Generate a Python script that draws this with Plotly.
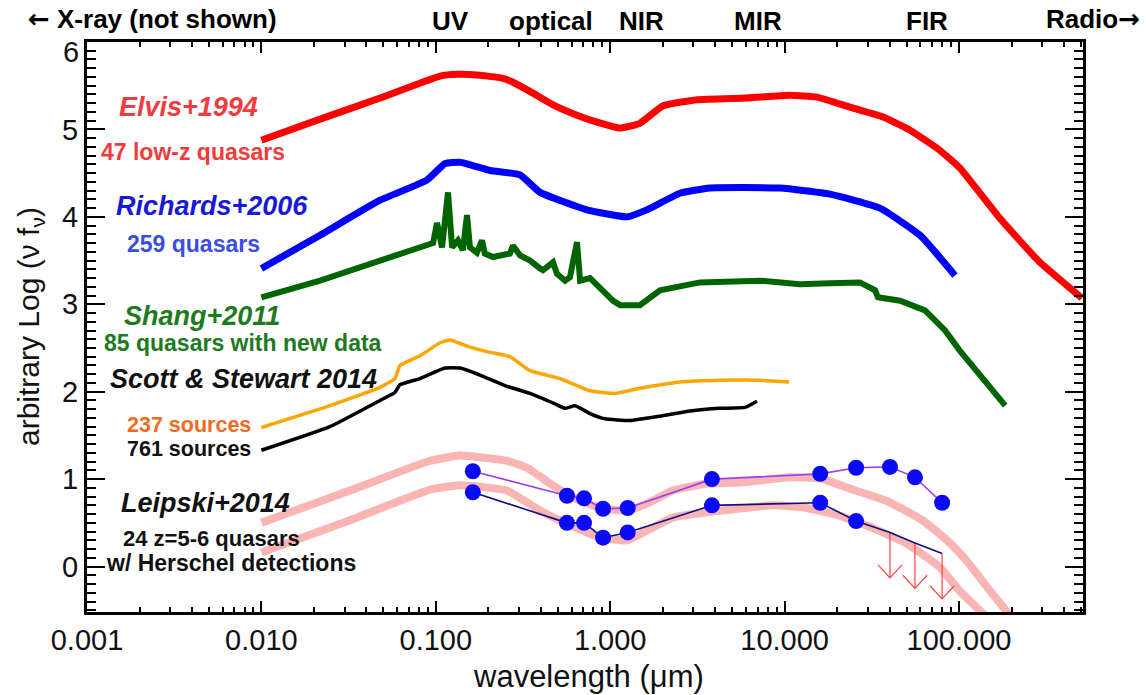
import numpy as np
import plotly.graph_objects as go

# ---------------- data (wavelength in micron, arbitrary log nu f_nu) ----------------
elvis_x = [0.01, 0.0217, 0.0479, 0.1057, 0.1324, 0.179, 0.2428, 0.277, 0.35, 0.47, 0.65, 0.85,
           1.14, 1.48, 2.01, 3.15, 6.09, 10.7, 15.3, 23.7, 36.7, 52.4, 77.8, 101, 172, 291, 507]
elvis_y = [4.877, 5.118, 5.359, 5.61, 5.63, 5.62, 5.585, 5.54, 5.43, 5.28, 5.16, 5.08,
           5.015, 5.07, 5.27, 5.34, 5.36, 5.39, 5.37, 5.255, 5.141, 4.99, 4.76, 4.56, 3.98, 3.48, 3.07]

richards_x = [0.01, 0.0217, 0.0479, 0.089, 0.113, 0.138, 0.205, 0.304, 0.396, 0.736, 1.25, 1.62,
              2.51, 3.73, 9.41, 18.2, 35.2, 59.7, 94.8]
richards_y = [3.41, 3.79, 4.19, 4.42, 4.61, 4.625, 4.53, 4.48, 4.28, 4.08, 4.0, 4.08,
              4.27, 4.33, 4.33, 4.26, 4.10, 3.79, 3.33]

shang_x = [0.01, 0.0217, 0.0479, 0.0845, 0.0965, 0.1016, 0.1086, 0.1175, 0.124, 0.134, 0.143,
           0.151, 0.157, 0.172, 0.184, 0.191, 0.213, 0.266, 0.277, 0.304, 0.347, 0.396, 0.412,
           0.470, 0.495, 0.551, 0.588, 0.645, 0.672, 0.766, 0.874, 1.04, 1.14, 1.48, 1.93, 3.27,
           7.23, 12.2, 18.2, 27.0, 33.0, 34.3, 45.9, 63.8, 83.2, 101, 132, 184]
shang_y = [3.08, 3.27, 3.50, 3.65, 3.70, 3.93, 3.65, 4.28, 3.65, 3.73, 3.62,
           4.02, 3.65, 3.59, 3.73, 3.58, 3.54, 3.58, 3.67, 3.56, 3.50, 3.41, 3.39,
           3.48, 3.35, 3.27, 3.31, 3.71, 3.27, 3.30, 3.19, 3.04, 2.99, 2.99, 3.16, 3.25,
           3.27, 3.23, 3.24, 3.25, 3.16, 3.08, 3.04, 2.93, 2.70, 2.47, 2.19, 1.84]

scott237_x = [0.01, 0.0247, 0.0479, 0.0583, 0.0623, 0.0811, 0.1057, 0.1205, 0.157, 0.205, 0.266,
              0.347, 0.515, 0.766, 1.07, 1.48, 2.51, 4.26, 7.23, 10.6]
scott237_y = [1.59, 1.84, 2.05, 2.15, 2.30, 2.41, 2.56, 2.59, 2.51, 2.45, 2.40,
              2.24, 2.15, 2.01, 1.98, 2.04, 2.11, 2.13, 2.13, 2.11]

scott761_x = [0.01, 0.0247, 0.0479, 0.0583, 0.0623, 0.0811, 0.113, 0.138, 0.179, 0.249, 0.347,
              0.483, 0.551, 0.628, 0.766, 0.933, 1.30, 1.93, 2.87, 4.26, 5.93, 6.95]
scott761_y = [1.33, 1.60, 1.90, 1.99, 2.08, 2.15, 2.27, 2.27, 2.19, 2.07, 1.98,
              1.86, 1.81, 1.84, 1.75, 1.69, 1.67, 1.72, 1.78, 1.81, 1.82, 1.89]

pink_hi_x = [0.01, 0.0322, 0.0927, 0.138, 0.256, 0.333, 0.452, 0.612, 0.874, 1.25, 1.62, 2.29,
             3.59, 5.55, 10.7, 16.0, 23.7, 38.6, 62.2, 85.3, 108, 151, 196]
pink_hi_y = [0.50, 0.87, 1.21, 1.27, 1.21, 1.13, 0.95, 0.79, 0.67, 0.64, 0.72, 0.87,
             0.95, 0.96, 1.02, 1.01, 0.89, 0.75, 0.525, 0.30, 0.09, -0.28, -0.56]
pink_lo_x = [0.01, 0.0322, 0.0927, 0.138, 0.256, 0.396, 0.565, 0.874, 1.25, 1.62, 2.29, 3.59,
             8.57, 13.4, 20.8, 32.1, 50.4, 77.8, 101, 141]
pink_lo_y = [0.16, 0.53, 0.88, 0.93, 0.87, 0.64, 0.49, 0.33, 0.30, 0.41, 0.56, 0.62,
             0.70, 0.67, 0.58, 0.44, 0.26, -0.01, -0.28, -0.56]

leip_hi_x = [0.163, 0.565, 0.708, 0.91, 1.26, 3.83, 16.0, 25.7, 40.2, 55.9, 80.0]
leip_hi_y = [1.09, 0.81, 0.78, 0.66, 0.67, 1.00, 1.06, 1.13, 1.14, 1.02, 0.73]
leip_lo_x = [0.163, 0.565, 0.708, 0.91, 1.26, 3.83, 16.0, 25.7]
leip_lo_y = [0.85, 0.50, 0.50, 0.33, 0.39, 0.70, 0.73, 0.52]
limit_x = [40.2, 55.9, 80.0]
limit_y = [0.39, 0.27, 0.15]
limit_len = 0.52

xtick_vals = [0.001, 0.01, 0.1, 1, 10, 100]
xtick_text = ["0.001", "0.010", "0.100", "1.000", "10.000", "100.000"]
ytick_vals = [0, 1, 2, 3, 4, 5]
ytick_text = ["0", "1", "2", "3", "4", "5"]
band_labels = ["UV", "optical", "NIR", "MIR", "FIR"]
band_xpix = [450, 551, 641, 758, 927]

# ---------------- figure ----------------
fig = go.Figure()

def line(x, y, color, width, opacity=1.0):
    fig.add_trace(go.Scatter(x=x, y=y, mode="lines", opacity=opacity,
                             line=dict(color=color, width=width, shape="spline", smoothing=0.4),
                             hoverinfo="skip", showlegend=False))

line(elvis_x, elvis_y, "#ff0000", 7)
line(richards_x, richards_y, "#0000ff", 7)
fig.add_trace(go.Scatter(x=shang_x, y=shang_y, mode="lines",
                         line=dict(color="#006400", width=6), showlegend=False, hoverinfo="skip"))
line(scott237_x, scott237_y, "#ffa500", 3.5)
line(scott761_x, scott761_y, "#000000", 3.5)
line(pink_hi_x, pink_hi_y, "rgba(245,125,125,0.58)", 8)
line(pink_lo_x, pink_lo_y, "rgba(245,125,125,0.58)", 8)

# upper limit arrows (lines + V heads), computed from the limit data
dxl = 0.069
dyl = 0.15
ax_, ay_ = [], []
for xv, yv in zip(limit_x, limit_y):
    tip = yv - limit_len
    ax_ += [xv, xv, None, xv * 10 ** (-dxl), xv, xv * 10 ** dxl, None]
    ay_ += [yv, tip, None, tip + dyl, tip, tip + dyl, None]
fig.add_trace(go.Scatter(x=ax_, y=ay_, mode="lines", line=dict(color="#ff4040", width=1.2),
                         showlegend=False, hoverinfo="skip"))

# Leipski lines + points
fig.add_trace(go.Scatter(x=leip_hi_x, y=leip_hi_y, mode="lines+markers",
                         line=dict(color="#9b3ff0", width=1.6),
                         marker=dict(color="#0a0af5", size=16),
                         showlegend=False, hoverinfo="skip"))
fig.add_trace(go.Scatter(x=leip_lo_x + limit_x, y=leip_lo_y + limit_y, mode="lines",
                         line=dict(color="#101080", width=1.6),
                         showlegend=False, hoverinfo="skip"))
fig.add_trace(go.Scatter(x=leip_lo_x, y=leip_lo_y, mode="markers",
                         marker=dict(color="#0a0af5", size=16),
                         showlegend=False, hoverinfo="skip"))

FONT = "Liberation Sans, Arial, sans-serif"

fig.update_layout(
    width=1146, height=695,
    margin=dict(l=87, r=63, t=42, b=83),
    paper_bgcolor="white", plot_bgcolor="white",
    font=dict(family=FONT, color="black"),
    showlegend=False,
)
fig.update_xaxes(
    type="log", range=[-3, np.log10(514)],
    tickmode="array", tickvals=xtick_vals, ticktext=xtick_text,
    ticks="inside", ticklen=11, tickwidth=2, tickcolor="black",
    minor=dict(dtick="D1", ticks="inside", ticklen=5, tickwidth=2, tickcolor="black", showgrid=False),
    showline=True, linewidth=3, linecolor="black", mirror="allticks",
    showgrid=False, zeroline=False,
    tickfont=dict(size=29, family=FONT, color="#111"),
)
fig.update_yaxes(
    range=[-0.52, 6.0], tickmode="array", tickvals=ytick_vals, ticktext=ytick_text,
    ticks="inside", ticklen=18, tickwidth=2, tickcolor="black",
    minor=dict(dtick=0.1, ticks="inside", ticklen=9, tickwidth=2, tickcolor="black", showgrid=False),
    showline=True, linewidth=3, linecolor="black", mirror="allticks",
    showgrid=False, zeroline=False,
    tickfont=dict(size=29, family=FONT, color="#111"),
)

def px2paper_x(px):
    return (px - 87) / 996.0

def py2paper_y(py):
    return (612 - py) / 570.0

ann = []
# top y label drawn just below the top edge, as in the reference
ann.append(dict(text="6", x=px2paper_x(81), y=py2paper_y(52), xref="paper", yref="paper",
                showarrow=False, xanchor="right", yanchor="middle", font=dict(size=29, color="#111")))
# axis titles
ann.append(dict(text="wavelength (μm)", x=px2paper_x(588), y=py2paper_y(676), xref="paper", yref="paper",
                showarrow=False, xanchor="center", yanchor="middle", font=dict(size=31, color="#111")))
ann.append(dict(text="arbitrary Log (ν f<sub>ν</sub>)", x=px2paper_x(30), y=py2paper_y(327), xref="paper",
                yref="paper", textangle=-90, showarrow=False, xanchor="center", yanchor="middle",
                font=dict(size=30, color="#111")))
# band labels on top
for lab, px in zip(band_labels, band_xpix):
    ann.append(dict(text="<b>%s</b>" % lab, x=px2paper_x(px), y=py2paper_y(21), xref="paper", yref="paper",
                    showarrow=False, xanchor="center", yanchor="middle", font=dict(size=26, color="black")))
ARW = "<span style=\"font-family:'DejaVu Sans'\">%s</span>"
ann.append(dict(text="<b>" + ARW % "←" + " X-ray (not shown)</b>", x=px2paper_x(26), y=py2paper_y(19),
                xref="paper", yref="paper", showarrow=False, xanchor="left", yanchor="middle",
                font=dict(size=26, color="black")))
ann.append(dict(text="<b>Radio" + ARW % "→" + "</b>", x=px2paper_x(1142), y=py2paper_y(19), xref="paper",
                yref="paper", showarrow=False, xanchor="right", yanchor="middle", font=dict(size=26, color="black")))

labels = [
    ("<b><i>Elvis+1994</i></b>", 188, 107, 27, "#f03c3c"),
    ("<b>47 low-z quasars</b>", 192.5, 152, 23, "#f03c3c"),
    ("<b><i>Richards+2006</i></b>", 212, 206, 27, "#1818d8"),
    ("<b>259 quasars</b>", 193, 244, 23, "#3a4ee6"),
    ("<b><i>Shang+2011</i></b>", 201.5, 316, 27, "#1e7a1e"),
    ("<b>85 quasars with new data</b>", 243, 343, 23, "#1e7a1e"),
    ("<b><i>Scott &amp; Stewart 2014</i></b>", 243, 379, 27, "#111111"),
    ("<b>237 sources</b>", 188.5, 425, 21.5, "#f26a1e"),
    ("<b>761 sources</b>", 188.5, 449, 21.5, "#111111"),
    ("<b><i>Leipski+2014</i></b>", 205, 503, 27, "#111111"),
    ("<b>24 z=5-6 quasars</b>", 211, 538, 22, "#111111"),
    ("<b>w/ Herschel detections</b>", 230.5, 563, 23, "#111111"),
]
for t, px, py, sz, col in labels:
    ann.append(dict(text=t, x=px2paper_x(px), y=py2paper_y(py), xref="paper", yref="paper",
                    showarrow=False, xanchor="center", yanchor="middle", font=dict(size=sz, color=col)))

fig.update_layout(annotations=ann)
fig.write_html("out.html")
